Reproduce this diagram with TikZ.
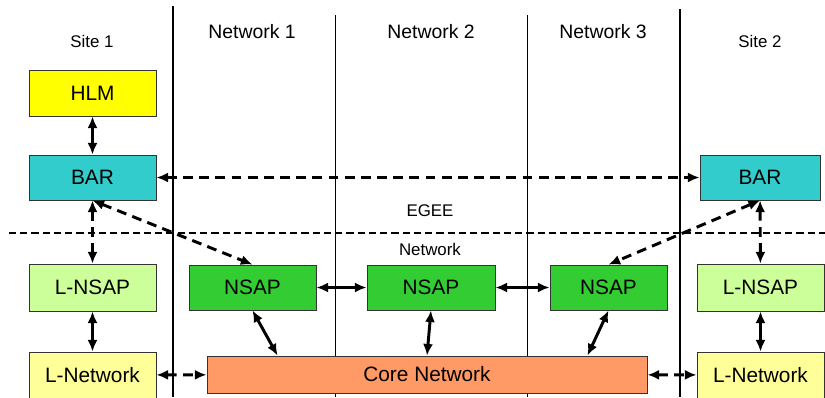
\documentclass[tikz,border=0pt]{standalone}
\usepackage{fontspec}
\setmainfont{Liberation Sans}
\usetikzlibrary{arrows.meta, positioning}

\begin{document}
\begin{tikzpicture}[x=0.025cm, y=-0.025cm,
    box/.style={rectangle, draw=black!80, line width=0.6pt,
                inner sep=0pt, font=\fontsize{14.8}{17}\selectfont},
    link/.style={line width=2.1pt, {Latex[length=2.9mm,width=2.5mm]}-{Latex[length=2.9mm,width=2.5mm]}},
    dlink/.style={link, dash pattern=on 7pt off 4.5pt},
    header/.style={font=\fontsize{13.8}{16}\selectfont},
    sitelbl/.style={font=\fontsize{12}{14}\selectfont}]
  \useasboundingbox (0,0) rectangle (825,397);

  % separators
  \draw[line width=1.4pt] (173,6) -- (173,397);
  \draw[line width=1.4pt] (680,9) -- (680,397);
  \draw[line width=0.7pt] (335,15) -- (335,397);
  \draw[line width=0.7pt] (527,15) -- (527,397);
  \draw[line width=1.2pt, dash pattern=on 5pt off 3pt] (9,233) -- (825,233);

  % column headers
  \node[sitelbl] (site1) at (92,41) {Site 1};
  \node[header] (net1) at (252,32) {Network 1};
  \node[header] (net2) at (431,32) {Network 2};
  \node[header] (net3) at (603,32) {Network 3};
  \node[sitelbl] (site2) at (760,41) {Site 2};
  \node[sitelbl] (egee) at (430,211) {EGEE};
  \node[sitelbl] (netlbl) at (430,249) {Network};

  % site 1
  \node[box, fill={rgb,255:red,255;green,255;blue,0},
        minimum width=3.175cm, minimum height=1.15cm] (hlm) at (92.5,93) {HLM};
  \node[box, fill={rgb,255:red,51;green,204;blue,204},
        minimum width=3.175cm, minimum height=1.125cm] (barL) at (92.5,177.5) {BAR};
  \node[box, fill={rgb,255:red,204;green,255;blue,153},
        minimum width=3.175cm, minimum height=1.175cm] (lnsapL) at (92.5,287.5) {L-NSAP};
  \node[box, fill={rgb,255:red,255;green,255;blue,153},
        minimum width=3.175cm, minimum height=1.15cm] (lnetL) at (92.5,375) {L-Network};

  % networks
  \node[box, fill={rgb,255:red,51;green,204;blue,51},
        minimum width=3.175cm, minimum height=1.125cm] (nsapA) at (252.5,287.5) {NSAP};
  \node[box, fill={rgb,255:red,51;green,204;blue,51},
        minimum width=3.2cm, minimum height=1.125cm] (nsapB) at (431,287.5) {NSAP};
  \node[box, fill={rgb,255:red,51;green,204;blue,51},
        minimum width=2.925cm, minimum height=1.125cm] (nsapC) at (608.5,287.5) {NSAP};
  \node[box, fill={rgb,255:red,255;green,153;blue,102},
        minimum width=11cm, minimum height=0.925cm] (core) at (427,374.5) {Core Network};

  % site 2
  \node[box, fill={rgb,255:red,51;green,204;blue,204},
        minimum width=3cm, minimum height=1.125cm] (barR) at (760,177.5) {BAR};
  \node[box, fill={rgb,255:red,204;green,255;blue,153},
        minimum width=3.175cm, minimum height=1.175cm] (lnsapR) at (760.5,287.5) {L-NSAP};
  \node[box, fill={rgb,255:red,255;green,255;blue,153},
        minimum width=3.175cm, minimum height=1.15cm] (lnetR) at (760.5,375) {L-Network};

  % connections
  \draw[link] (hlm) -- (barL);
  \draw[dlink] (barL) -- (barR);
  \draw[dlink] (barL) -- (lnsapL);
  \draw[dlink] (barL.south) -- (nsapA.north);
  \draw[dlink] (barR.south) -- (nsapC.north);
  \draw[dlink] (barR) -- (lnsapR);
  \draw[link] (lnsapL) -- (lnetL);
  \draw[link] (lnsapR) -- (lnetR);
  \draw[link] (nsapA) -- (nsapB);
  \draw[link] (nsapB) -- (nsapC);
  \draw[link] (nsapA.south) -- ([xshift=1.775cm]core.north west);
  \draw[link] (nsapB.south) -- (core.north);
  \draw[link] (nsapC.south) -- ([xshift=-1.5cm]core.north east);
  \draw[dlink] (lnetL) -- (core);
  \draw[dlink] (core) -- (lnetR);
\end{tikzpicture}
\end{document}
